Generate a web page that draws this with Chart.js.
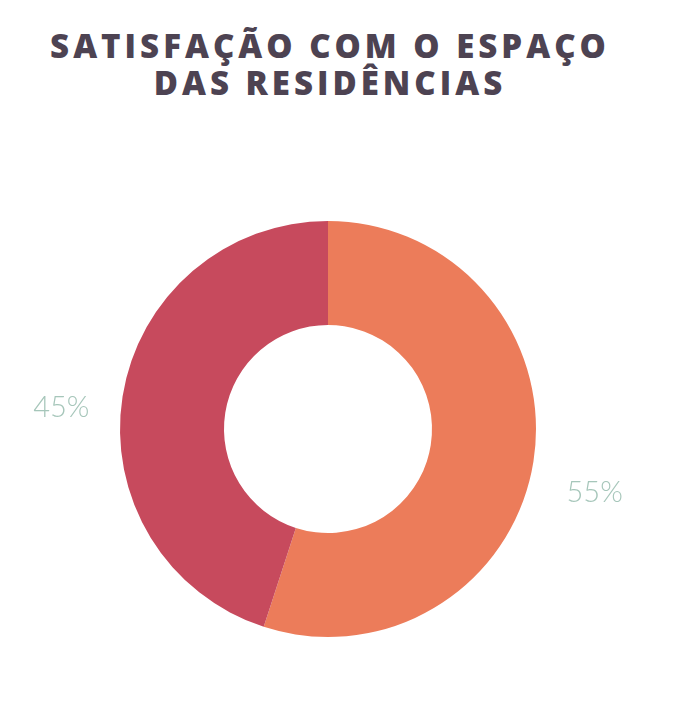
<!DOCTYPE html>
<html>
<head>
<meta charset="utf-8">
<script src="https://cdn.jsdelivr.net/npm/chart.js@4.4.0/dist/chart.umd.min.js"></script>
<style>
  html, body { margin: 0; padding: 0; background: #fff; }
  #wrap { position: relative; width: 673px; height: 724px; }
  #title {
    position: absolute; left: 0; top: 27px; width: 656px; margin: 0;
    text-align: center; font-family: "Open Sans", sans-serif; font-weight: 800;
    font-size: 33px; line-height: 37px; letter-spacing: 4px; padding-left: 4px;
    box-sizing: border-box; color: #4d4352;
  }
  #chart { position: absolute; left: 0; top: 0; }
</style>
</head>
<body>
<div id="wrap">
  <h1 id="title">SATISFAÇÃO COM O ESPAÇO<br>DAS RESIDÊNCIAS</h1>
  <canvas id="chart" width="673" height="724"></canvas>
</div>
<script>
// Dados
const labels = ['Satisfeito', 'Não satisfeito'];
const values = [55, 45];
const colors = ['#ec7c5a', '#c74a5d'];

// Rótulos de percentagem fora do anel
const pctLabels = {
  id: 'pctLabels',
  afterDraw(chart) {
    const ctx = chart.ctx;
    const meta = chart.getDatasetMeta(0);
    ctx.save();
    ctx.font = '300 29px Lato, sans-serif';
    ctx.fillStyle = '#a6c6ba';
    ctx.textAlign = 'center';
    ctx.textBaseline = 'middle';
    meta.data.forEach((arc, i) => {
      const mid = (arc.startAngle + arc.endAngle) / 2;
      const r = arc.outerRadius + 62;
      const x = arc.x + Math.cos(mid) * r;
      const y = arc.y + Math.sin(mid) * r + 21;
      ctx.fillText(values[i] + '%', x, y);
    });
    ctx.restore();
  }
};

new Chart(document.getElementById('chart'), {
  type: 'doughnut',
  data: {
    labels: labels,
    datasets: [{
      data: values,
      backgroundColor: colors,
      borderWidth: 0
    }]
  },
  options: {
    responsive: false,
    animation: false,
    cutout: '50%',
    layout: { padding: { left: 120, right: 137, top: 221, bottom: 87 } },
    plugins: {
      legend: { display: false },
      tooltip: { enabled: false }
    }
  },
  plugins: [pctLabels]
});
</script>
</body>
</html>
